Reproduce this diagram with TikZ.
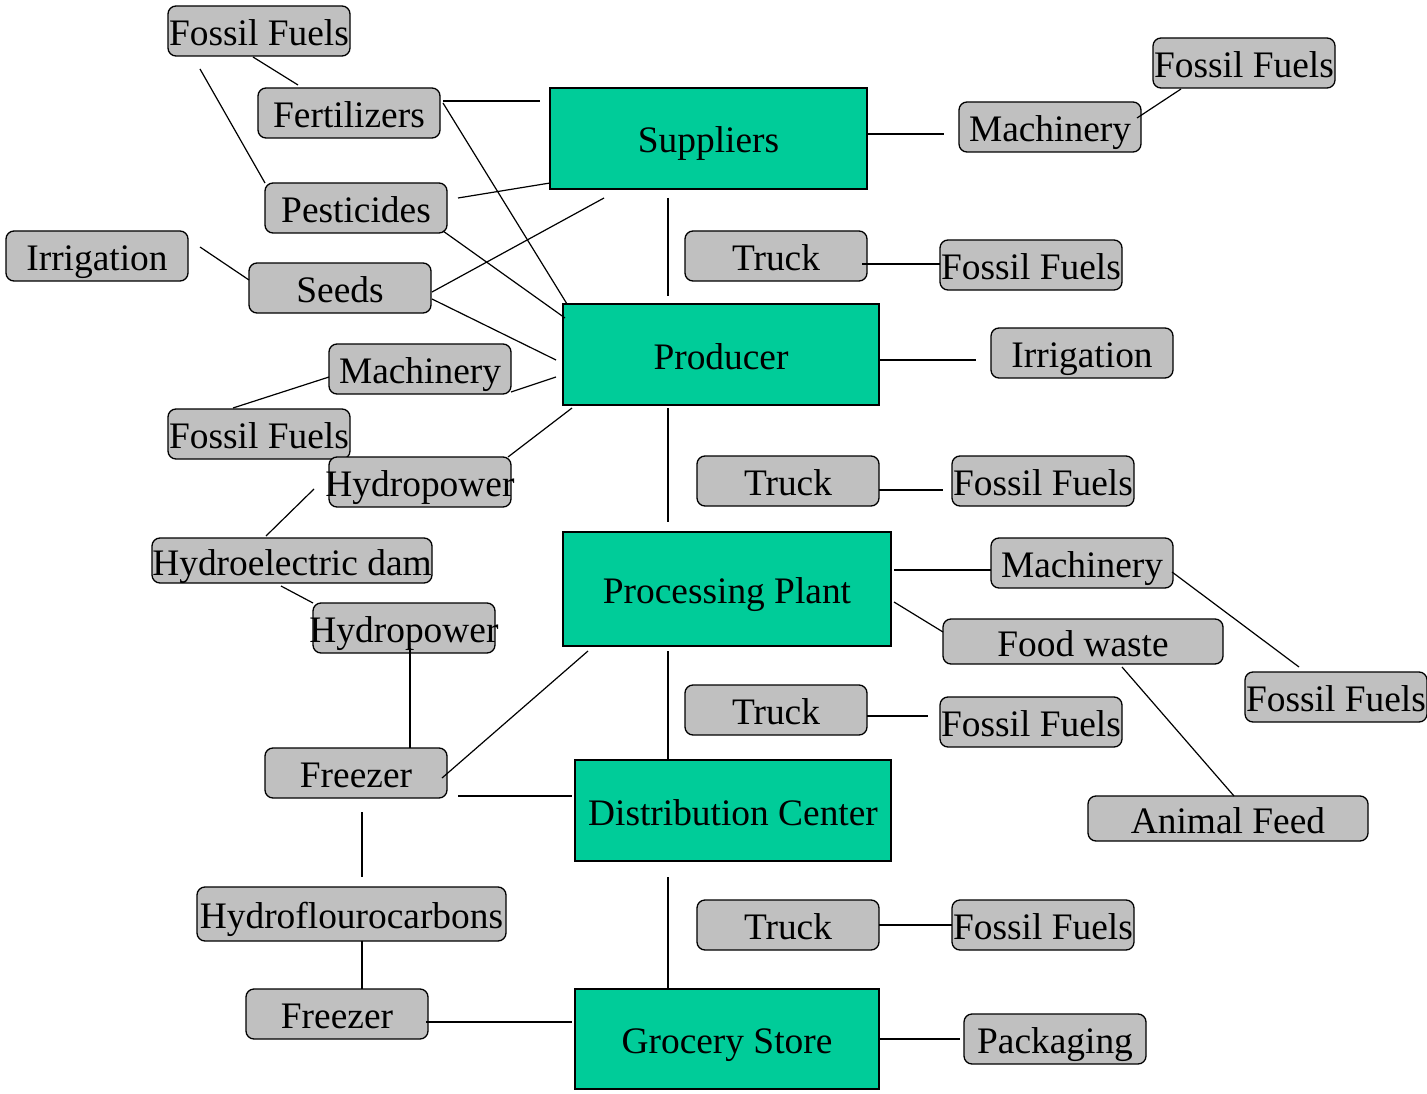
\documentclass[tikz,border=0pt]{standalone}
\usepackage{fontspec}
\setmainfont{Liberation Serif}
\usetikzlibrary{calc}
\definecolor{stagegreen}{HTML}{00CC99}
\definecolor{itemgray}{HTML}{C0C0C0}
% label of zero width, so the box keeps its own size
\newcommand{\cbox}[1]{\makebox[0pt][c]{#1}}

\begin{document}
\begin{tikzpicture}[x=1pt,y=-1pt,
  every node/.style={font=\fontsize{37.4}{40}\selectfont, inner sep=0pt,
                     text height=29pt, text depth=0pt},
  stage/.style={draw=black, fill=stagegreen, line width=1.3pt},
  item/.style={draw=black, fill=itemgray, rounded corners=8pt, line width=1.3pt,
               minimum width=182pt, minimum height=50pt},
  wideitem/.style={item, minimum width=280pt, minimum height=45pt},
  link/.style={line width=1.2pt}]

\fill[white] (0,0) rectangle (1427,1094);
\useasboundingbox (0,0) rectangle (1427,1094);

% supply chain stages
\node[stage, minimum width=317pt, minimum height=101pt] (sup)  at (708.5,138.5) {\cbox{Suppliers}};
\node[stage, minimum width=316pt, minimum height=101pt] (prod) at (721,354.5)   {\cbox{Producer}};
\node[stage, minimum width=328pt, minimum height=114pt] (proc) at (727,589)     {\cbox{Processing Plant}};
\node[stage, minimum width=316pt, minimum height=101pt] (dist) at (733,810.5)   {\cbox{Distribution Center}};
\node[stage, minimum width=304pt, minimum height=100pt] (groc) at (727,1039)    {\cbox{Grocery Store}};

% inputs on the left
\node[item] (ffa)    at (259,31)   {\cbox{Fossil Fuels}};
\node[item] (fert)   at (349,113)  {\cbox{Fertilizers}};
\node[item] (pest)   at (356,208)  {\cbox{Pesticides}};
\node[item] (irrl)   at (97,256)   {\cbox{Irrigation}};
\node[item] (seeds)  at (340,288)  {\cbox{Seeds}};
\node[item] (machl)  at (420,369)  {\cbox{Machinery}};
\node[item] (ffb)    at (259,434)  {\cbox{Fossil Fuels}};
\node[item] (hydroa) at (420,482)  {\cbox{Hydropower}};
\node[wideitem] (dam) at (292,560.5) {\cbox{Hydroelectric dam}};
\node[item] (hydrob) at (404,628)  {\cbox{Hydropower}};
\node[item] (frza)   at (356,773)  {\cbox{Freezer}};
\node[item, minimum width=309pt, minimum height=54pt] (hfc) at (351.5,914) {\cbox{Hydroflourocarbons}};
\node[item] (frzb)   at (337,1014) {\cbox{Freezer}};

% inputs and outputs on the right
\node[item] (ffc)    at (1244,63)  {\cbox{Fossil Fuels}};
\node[item] (machr)  at (1050,127) {\cbox{Machinery}};
\node[item] (trucka) at (776,256)  {\cbox{Truck}};
\node[item] (ffd)    at (1031,265) {\cbox{Fossil Fuels}};
\node[item] (irrr)   at (1082,353) {\cbox{Irrigation}};
\node[item] (truckb) at (788,481)  {\cbox{Truck}};
\node[item] (ffe)    at (1043,481) {\cbox{Fossil Fuels}};
\node[item] (machm)  at (1082,563) {\cbox{Machinery}};
\node[wideitem] (waste) at (1083,641.5) {\cbox{Food waste}};
\node[item] (fff)    at (1336,697) {\cbox{Fossil Fuels}};
\node[item] (truckc) at (776,710)  {\cbox{Truck}};
\node[item] (ffg)    at (1031,722) {\cbox{Fossil Fuels}};
\node[wideitem] (feed) at (1228,818.5) {\cbox{Animal Feed}};
\node[item] (truckd) at (788,925)  {\cbox{Truck}};
\node[item] (ffh)    at (1043,925) {\cbox{Fossil Fuels}};
\node[item] (pack)   at (1055,1039) {\cbox{Packaging}};

% connectors, left side
\draw[link] ($(ffa)+(-6,26)$)      -- ($(fert)+(-51,-28)$);
\draw[link] ($(ffa)+(-59,38)$)     -- ($(pest)+(-91,-25)$);
\draw[link] ($(fert)+(94,-12)$)    -- ($(sup)+(-168.5,-37.5)$);
\draw[link] ($(fert)+(94,-10)$)    -- ($(prod)+(-154,-50.5)$);
\draw[link] ($(pest)+(102,-10)$)   -- ($(sup)+(-158.5,44.5)$);
\draw[link] ($(pest)+(87,23)$)     -- ($(prod)+(-156,-36.5)$);
\draw[link] ($(seeds)+(92,4)$)     -- ($(sup)+(-104.5,59.5)$);
\draw[link] ($(seeds)+(92,11)$)    -- ($(prod)+(-165,5.5)$);
\draw[link] ($(irrl)+(103,-9)$)    -- ($(seeds)+(-91,-8)$);
\draw[link] ($(machl)+(91,23)$)    -- ($(prod)+(-165,22.5)$);
\draw[link] ($(machl)+(-91,8)$)    -- ($(ffb)+(-26,-26)$);
\draw[link] ($(hydroa)+(88,-25)$)  -- ($(prod)+(-149,53.5)$);
\draw[link] ($(hydroa)+(-106,7)$)  -- ($(dam)+(-26,-24.5)$);
\draw[link] ($(dam)+(-11,25.5)$)   -- ($(hydrob)+(-91,-25)$);
\draw[link] ($(hydrob)+(6,20)$)    -- ($(frza)+(54,-25)$);
\draw[link] ($(frza)+(86,5)$)      -- ($(proc)+(-139,62)$);
\draw[link] ($(frza)+(102,23)$)    -- ($(dist)+(-161,-14.5)$);
\draw[link] ($(frza)+(6,39)$)      -- ($(hfc)+(10.5,-37)$);
\draw[link] ($(hfc)+(10.5,27)$)    -- ($(frzb)+(25,-25)$);
\draw[link] ($(frzb)+(89,8)$)      -- ($(groc)+(-155,-17)$);

% connectors, main chain and right side
\draw[link] ($(sup)+(158.5,-4.5)$) -- ($(machr)+(-106,7)$);
\draw[link] ($(machr)+(87,-9)$)    -- ($(ffc)+(-63,26)$);
\draw[link] ($(sup)+(-40.5,59.5)$) -- ($(prod)+(-53,-58.5)$);
\draw[link] ($(trucka)+(86,8)$)    -- ($(ffd)+(-91,-1)$);
\draw[link] ($(prod)+(158,5.5)$)   -- ($(irrr)+(-106,7)$);
\draw[link] ($(prod)+(-53,53.5)$)  -- ($(proc)+(-59,-67)$);
\draw[link] ($(truckb)+(91,9)$)    -- ($(ffe)+(-100,9)$);
\draw[link] ($(proc)+(167,-19)$)   -- ($(machm)+(-91,7)$);
\draw[link] ($(proc)+(167,13)$)    -- ($(waste)+(-140,-9.5)$);
\draw[link] ($(machm)+(90,9)$)     -- ($(fff)+(-37,-30)$);
\draw[link] ($(waste)+(39,25.5)$)  -- ($(feed)+(6,-22.5)$);
\draw[link] ($(proc)+(-59,62)$)    -- ($(dist)+(-65,-50.5)$);
\draw[link] ($(truckc)+(91,6)$)    -- ($(ffg)+(-103,-6)$);
\draw[link] ($(dist)+(-65,66.5)$)  -- ($(groc)+(-59,-50)$);
\draw[link] ($(truckd)+(91,0)$)    -- ($(ffh)+(-91,0)$);
\draw[link] ($(groc)+(152,0)$)     -- ($(pack)+(-95,0)$);
\end{tikzpicture}
\end{document}
